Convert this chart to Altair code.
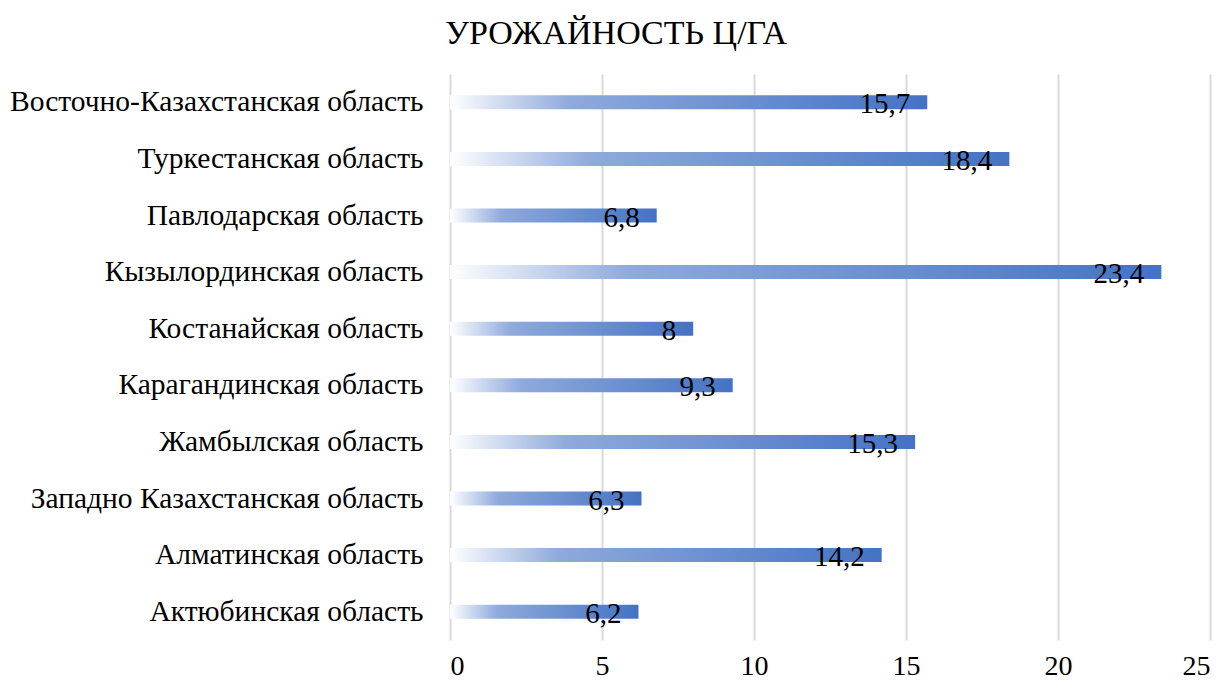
import altair as alt
import pandas as pd

regions = [
    "Восточно-Казахстанская область",
    "Туркестанская область",
    "Павлодарская область",
    "Кызылординская область",
    "Костанайская область",
    "Карагандинская область",
    "Жамбылская область",
    "Западно Казахстанская область",
    "Алматинская область",
    "Актюбинская область",
]
yields = [15.7, 18.4, 6.8, 23.4, 8.0, 9.3, 15.3, 6.3, 14.2, 6.2]
labels = ["15,7", "18,4", "6,8", "23,4", "8", "9,3", "15,3", "6,3", "14,2", "6,2"]
x_ticks = [0, 5, 10, 15, 20, 25]

df = pd.DataFrame({"region": regions, "value": yields, "label": labels})

FONT = "Liberation Serif"

grad = alt.Gradient(
    gradient="linear",
    x1=0, x2=1, y1=0, y2=0,
    stops=[
        alt.GradientStop(color="#ffffff", offset=0),
        alt.GradientStop(color="#8faadc", offset=0.25),
        alt.GradientStop(color="#4472c4", offset=1),
    ],
)

y_enc = alt.Y(
    "region:N",
    sort=regions,
    title=None,
    axis=alt.Axis(
        labelFont=FONT, labelFontSize=29.5, labelColor="#000000",
        labelPadding=27, ticks=False, domain=False, grid=False,
        labelLimit=600,
    ),
    scale=alt.Scale(paddingInner=0.75, paddingOuter=0.375),
)

x_enc = alt.X(
    "value:Q",
    title=None,
    scale=alt.Scale(domain=[0, 25], nice=False),
    axis=alt.Axis(
        values=x_ticks, labelFont=FONT, labelFontSize=28, labelColor="#000000",
        labelPadding=12, ticks=False, domain=False,
        grid=True, gridColor="#d9d9d9", gridWidth=2,
    ),
)

bars = alt.Chart(df).mark_bar(color=grad, size=14, cornerRadius=0).encode(
    x=x_enc, y=y_enc
)

text = alt.Chart(df).mark_text(
    font=FONT, fontSize=29, color="#000000", align="right", dx=-17, dy=2,
    baseline="middle",
).encode(
    x="value:Q", y=alt.Y("region:N", sort=regions), text="label:N"
)

chart = (
    (bars + text)
    .properties(
        width=760,
        height=566,
        autosize=alt.AutoSizeParams(type="none"),
        padding={"left": 442, "top": 66, "right": 14, "bottom": 45},
        title=alt.TitleParams(
            "УРОЖАЙНОСТЬ Ц/ГА",
            font=FONT, fontSize=34, fontWeight="normal", color="#000000",
            anchor="middle", dx=-214, offset=23,
        ),
    )
    .configure_view(stroke=None)
)

chart.save("out.html", embed_options={"renderer": "svg", "actions": False})
